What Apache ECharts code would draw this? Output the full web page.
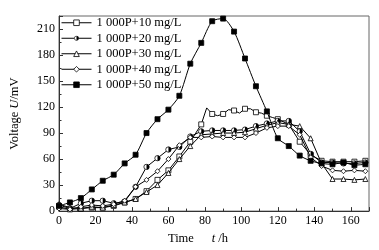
<!DOCTYPE html>
<html>
<head>
<meta charset="utf-8">
<script src="https://cdn.jsdelivr.net/npm/echarts@6/dist/echarts.min.js"></script>
<style>
  html, body { margin: 0; padding: 0; background: #fff; }
  #chart { width: 379px; height: 250px; }
</style>
</head>
<body>
<div id="chart"></div>
<script>
// sampling times (h) that carry a marker
const hours = [0, 6, 12, 18, 24, 30, 36, 42, 48, 54, 60, 66, 72, 78, 84, 90, 96, 102, 108, 114, 120, 126, 132, 138, 144, 150, 156, 162, 168];
const names = ['1 000P+10 mg/L', '1 000P+20 mg/L', '1 000P+30 mg/L', '1 000P+40 mg/L', '1 000P+50 mg/L'];
// voltage (mV) at those times
const s10 = [5, 2, 3, 4, 4, 6, 10, 14, 23, 36, 47, 63, 80, 100, 112, 112, 116, 118, 114, 110, 106, 100, 80, 65, 58, 57, 57, 57, 58];
const s20 = [7, 3, 9, 12, 12, 9, 11, 28, 51, 61, 71, 74, 86, 92, 93, 93, 93, 94, 98, 101, 104, 104, 92, 66, 56, 56, 55, 55, 56];
const s30 = [8, 4, 3, 5, 4, 7, 10, 14, 22, 30, 44, 60, 75, 88, 89, 90, 90, 91, 95, 99, 102, 100, 98, 84, 55, 37, 37, 36, 37];
const s40 = [3, 2, 5, 7, 6, 8, 12, 28, 36, 46, 60, 76, 85, 85, 86, 85, 85, 85, 90, 96, 98, 98, 88, 62, 52, 47, 46, 47, 46];
const s50 = [6, 10, 15, 25, 35, 42, 55, 65, 90, 106, 117, 133, 170, 194, 219, 222, 207, 176, 144, 115, 84, 75, 64, 58, 55, 54, 56, 53, 54];
// readings between markers (no symbol)
const s10Between = [[81, 119], [87, 110], [93, 117], [99, 113], [105, 118], [111, 113], [117, 108]];

const halfCircle = 'image://data:image/svg+xml;charset=utf-8,' + encodeURIComponent(
  "<svg xmlns='http://www.w3.org/2000/svg' width='12' height='12' viewBox='0 0 12 12'>" +
  "<circle cx='6' cy='6' r='4.6' fill='white' stroke='black' stroke-width='1.3'/>" +
  "<path d='M6 1.4 A4.6 4.6 0 0 1 6 10.6 Z' fill='black'/></svg>");

const font = 'Liberation Serif';

function build(vals, extra) {
  let pts = hours.map((h, i) => ({ value: [h, vals[i]] }));
  (extra || []).forEach(p => pts.push({ value: p, symbol: 'none' }));
  pts.sort((a, b) => a.value[0] - b.value[0]);
  return pts;
}

const styles = [
  { symbol: 'rect', fill: '#fff' },
  { symbol: halfCircle, fill: '#fff' },
  { symbol: 'triangle', fill: '#fff' },
  { symbol: 'diamond', fill: '#fff' },
  { symbol: 'rect', fill: '#000' }
];
const allData = [build(s10, s10Between), build(s20), build(s30), build(s40), build(s50)];

var myChart = echarts.init(document.getElementById('chart'));
myChart.setOption({
  animation: false,
  textStyle: { fontFamily: font, color: '#000' },
  grid: { left: 54, right: 10, top: 16, bottom: 36, show: true, borderColor: '#666', borderWidth: 1 },
  legend: {
    orient: 'vertical',
    left: 56,
    top: 11,
    itemWidth: 30,
    itemHeight: 7,
    itemGap: 2,
    lineStyle: { width: 1 },
    itemStyle: { borderWidth: 0.8 },
    textStyle: { fontFamily: font, fontSize: 12.5, color: '#000', lineHeight: 13.5 },
    data: names
  },
  xAxis: {
    type: 'value',
    min: 0, max: 170, interval: 20,
    name: '{a|Time}      {b|t} {a|/h}',
    nameLocation: 'middle',
    nameGap: 19,
    nameTextStyle: {
      padding: [0, 32, 0, 0],
      rich: {
        a: { fontFamily: font, fontSize: 12.5, color: '#000' },
        b: { fontFamily: font, fontSize: 12.5, color: '#000', fontStyle: 'italic' }
      }
    },
    axisLine: { lineStyle: { color: '#333', width: 1 } },
    axisTick: { inside: true, length: 4, lineStyle: { color: '#333' } },
    minorTick: { show: true, splitNumber: 2, length: 2.5, lineStyle: { color: '#333' } },
    axisLabel: { fontFamily: font, fontSize: 12, color: '#000', margin: 4, showMaxLabel: false },
    splitLine: { show: false }
  },
  yAxis: {
    type: 'value',
    min: 0, max: 225, interval: 30,
    name: '{a|Voltage }{b|U}{a|/mV}',
    nameLocation: 'middle',
    nameGap: 38,
    nameTextStyle: {
      rich: {
        a: { fontFamily: font, fontSize: 12.5, color: '#000' },
        b: { fontFamily: font, fontSize: 12.5, color: '#000', fontStyle: 'italic' }
      }
    },
    axisLine: { lineStyle: { color: '#333', width: 1 } },
    axisTick: { inside: true, length: 4, lineStyle: { color: '#333' } },
    minorTick: { show: true, splitNumber: 2, length: 2.5, lineStyle: { color: '#333' } },
    axisLabel: { fontFamily: font, fontSize: 12, color: '#000', margin: 4, showMaxLabel: false },
    splitLine: { show: false }
  },
  series: allData.map((d, i) => ({
    name: names[i],
    type: 'line',
    data: d,
    symbol: styles[i].symbol,
    symbolSize: i === 1 ? 7 : 5,
    showAllSymbol: true,
    lineStyle: { color: '#000', width: 1 },
    itemStyle: { color: styles[i].fill, borderColor: '#000', borderWidth: 0.8 },
    smooth: i === 4 ? 0.25 : false,
    z: 2 + i
  }))
});
</script>
</body>
</html>
